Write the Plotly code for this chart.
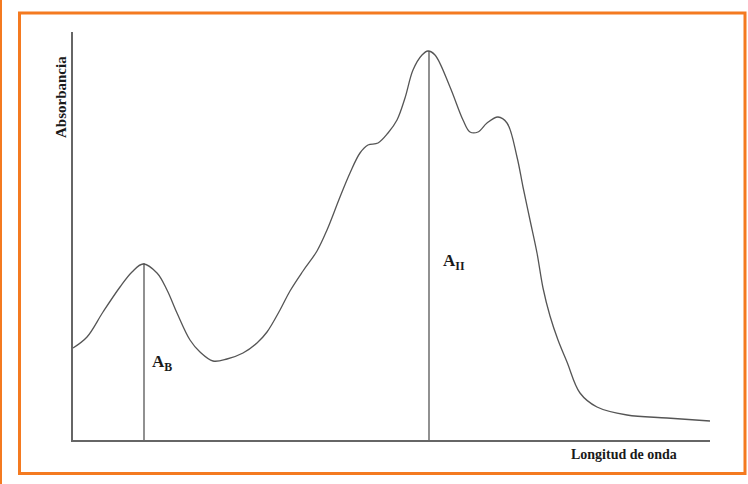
import plotly.graph_objects as go

# Spectrum (arbitrary units)
wavelength = [0, 14, 30, 47, 59, 70, 84, 94, 104, 117, 127, 140, 154, 170, 184, 194, 207, 217, 230, 244,
              254, 267, 277, 287, 295, 305, 315, 324, 332, 340, 349, 355, 362, 377, 390, 397, 405, 414,
              425, 434, 444, 450, 457, 464, 470, 477, 485, 494, 507, 524, 554, 594, 637]
absorbance = [92, 103, 128, 153, 168, 176, 167, 150, 127, 100, 88, 79, 81, 87, 97, 108, 130, 149, 169, 189,
              210, 243, 267, 287, 295, 297, 307, 320, 342, 370, 385, 389, 385, 353, 320, 308, 308, 317,
              323, 317, 283, 253, 220, 187, 152, 124, 100, 78, 47, 33, 25, 22, 19]

peak_B_x, peak_B_y = 71, 177
peak_II_x, peak_II_y = 356, 389

label_B = "A<sub>B</sub>"
label_II = "A<sub>II</sub>"
x_title = "Longitud de onda"
y_title = "Absorbancia"

fig = go.Figure()
fig.add_trace(go.Scatter(x=wavelength, y=absorbance, mode="lines",
                         line=dict(color="#555555", width=1.3, shape="spline", smoothing=1.0),
                         hoverinfo="skip", showlegend=False))
for px, py in [(peak_B_x, peak_B_y), (peak_II_x, peak_II_y)]:
    fig.add_trace(go.Scatter(x=[px, px], y=[0, py], mode="lines",
                             line=dict(color="#555555", width=1.3),
                             hoverinfo="skip", showlegend=False))

W, H = 748, 484
L, R, T, B = 73, 38, 32, 44
pw, ph = W - L - R, H - T - B

def px2paper_x(x):
    return (x - L) / pw

def px2paper_y(y):
    return (H - B - y) / ph

orange = "#F47A20"
shapes = [
    dict(type="rect", xref="paper", yref="paper",
         x0=px2paper_x(19.5), x1=px2paper_x(745), y0=px2paper_y(473.5), y1=px2paper_y(13),
         line=dict(color=orange, width=3), fillcolor="rgba(0,0,0,0)", layer="below"),
    dict(type="line", xref="paper", yref="paper",
         x0=px2paper_x(1), x1=px2paper_x(1), y0=px2paper_y(484), y1=px2paper_y(0),
         line=dict(color=orange, width=2)),
]

serif = "Liberation Serif, Times New Roman, serif"
annotations = [
    dict(text="<b>" + y_title + "</b>", xref="paper", yref="paper",
         x=px2paper_x(61), y=px2paper_y(97), xanchor="center", yanchor="middle",
         textangle=-90, showarrow=False,
         font=dict(family=serif, size=15, color="#1a1a1a")),
    dict(text="<b>" + x_title + "</b>", xref="paper", yref="paper",
         x=px2paper_x(624), y=px2paper_y(454), xanchor="center", yanchor="middle",
         showarrow=False,
         font=dict(family=serif, size=14, color="#1a1a1a")),
    dict(text="<b>" + label_B + "</b>", xref="x", yref="y",
         x=77, y=77, xanchor="left", yanchor="middle", showarrow=False,
         font=dict(family=serif, size=17, color="#1a1a1a")),
    dict(text="<b>" + label_II + "</b>", xref="x", yref="y",
         x=368, y=178, xanchor="left", yanchor="middle", showarrow=False,
         font=dict(family=serif, size=17, color="#1a1a1a")),
]

fig.update_layout(
    width=W, height=H,
    margin=dict(l=L, r=R, t=T, b=B),
    paper_bgcolor="white", plot_bgcolor="white",
    shapes=shapes, annotations=annotations,
    xaxis=dict(range=[0, 637], showgrid=False, zeroline=False, showticklabels=False, ticks="",
               showline=True, linecolor="#666666", linewidth=1.5),
    yaxis=dict(range=[0, 408], showgrid=False, zeroline=False, showticklabels=False, ticks="",
               showline=True, linecolor="#666666", linewidth=1.5),
)

fig.write_html("out.html")
